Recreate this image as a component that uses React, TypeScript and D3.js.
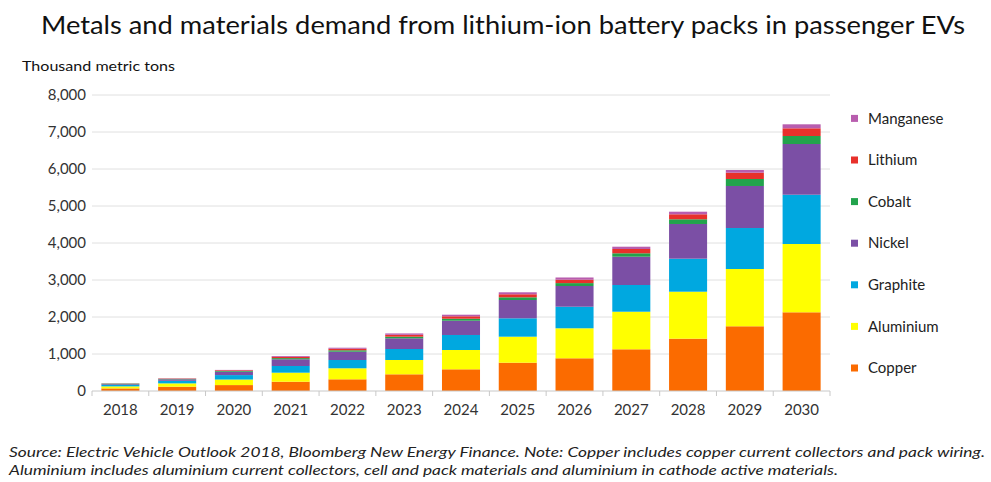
import React from "react";
import * as d3 from "d3";

const years = ["2018", "2019", "2020", "2021", "2022", "2023", "2024", "2025", "2026", "2027", "2028", "2029", "2030"];

// thousand metric tons
const copper = [70, 116, 160, 251, 316, 451, 586, 765, 884, 1127, 1414, 1749, 2127];
const aluminium = [55, 90, 150, 244, 298, 387, 522, 703, 811, 1016, 1270, 1548, 1846];
const graphite = [40, 70, 120, 181, 224, 297, 406, 497, 583, 722, 892, 1108, 1332];
const nickel = [20, 40, 90, 181, 224, 289, 386, 494, 560, 765, 938, 1136, 1371];
const cobalt = [15, 12, 20, 32, 38, 44, 54, 73, 78, 92, 127, 189, 216];
const lithium = [5, 10, 20, 35, 42, 50, 65, 82, 92, 116, 135, 170, 208];
const manganese = [3, 5, 10, 22, 28, 38, 43, 54, 60, 62, 70, 73, 108];

const seriesNames = ["Copper", "Aluminium", "Graphite", "Nickel", "Cobalt", "Lithium", "Manganese"];
const seriesValues = [copper, aluminium, graphite, nickel, cobalt, lithium, manganese];
const colors = ["#fb6b00", "#ffff00", "#00a8e0", "#7b4fa5", "#22a34c", "#e8302b", "#b85dae"];

const yTicks = [0, 1000, 2000, 3000, 4000, 5000, 6000, 7000, 8000];

const W = 991;
const H = 482;
const left = 92;
const right = 830;
const top = 95;
const bottom = 391;

export default function App() {
  const rows = years.map((y, i) => {
    const r: any = { year: y };
    seriesNames.forEach((s, j) => (r[s] = seriesValues[j][i]));
    return r;
  });
  const stacked = d3.stack().keys(seriesNames)(rows);

  const x = d3.scaleBand().domain(years).range([left, right]).paddingInner(0.33).paddingOuter(0.165);
  const y = d3.scaleLinear().domain([0, 8000]).range([bottom, top]);
  const fmt = d3.format(",");
  const step = x.step();
  const font = "Lato, 'Open Sans', sans-serif";

  return (
    <svg width={W} height={H} style={{ position: "absolute", left: 0, top: 0, background: "#fff" }}>
      <text x={41} y={34} fontFamily={font} fontSize={25} fill="#111" textLength={924} lengthAdjust="spacingAndGlyphs">
        Metals and materials demand from lithium-ion battery packs in passenger EVs
      </text>
      <text x={22} y={71} fontFamily={font} fontSize={14} fill="#111" textLength={153} lengthAdjust="spacingAndGlyphs">
        Thousand metric tons
      </text>

      {yTicks.map((t) => (
        <g key={t}>
          {t > 0 && <line x1={left} x2={right} y1={y(t)} y2={y(t)} stroke="#e0e0e0" strokeWidth={1} />}
          <text x={86} y={y(t)} dy="0.35em" textAnchor="end" fontFamily={font} fontSize={15} fill="#333">
            {fmt(t)}
          </text>
        </g>
      ))}

      {stacked.map((s, j) => (
        <g key={s.key} fill={colors[j]}>
          {s.map((d: any, i: number) => (
            <rect key={i} x={x(years[i])} width={x.bandwidth()} y={y(d[1])} height={y(d[0]) - y(d[1])} />
          ))}
        </g>
      ))}

      <line x1={left} x2={right} y1={bottom} y2={bottom} stroke="#c8c8c8" />
      {d3.range(years.length + 1).map((i) => (
        <line key={i} x1={left + i * step} x2={left + i * step} y1={bottom} y2={bottom + 5} stroke="#c8c8c8" />
      ))}
      {years.map((yr) => (
        <text key={yr} x={(x(yr) as number) + x.bandwidth() / 2} y={415} textAnchor="middle" fontFamily={font} fontSize={15} fill="#333">
          {yr}
        </text>
      ))}

      {seriesNames.map((s, j) => {
        const ly = 368 - j * 41.6;
        return (
          <g key={s}>
            <rect x={851} y={ly - 3.5} width={7} height={7} fill={colors[j]} />
            <text x={868} y={ly} dy="0.35em" fontFamily={font} fontSize={15} fill="#222">
              {s}
            </text>
          </g>
        );
      })}

      <text x={9} y={457} fontFamily={font} fontSize={14} fontStyle="italic" fill="#222" textLength={976} lengthAdjust="spacingAndGlyphs">
        Source: Electric Vehicle Outlook 2018, Bloomberg New Energy Finance. Note: Copper includes copper current collectors and pack wiring.
      </text>
      <text x={9} y={475} fontFamily={font} fontSize={14} fontStyle="italic" fill="#222" textLength={829} lengthAdjust="spacingAndGlyphs">
        Aluminium includes aluminium current collectors, cell and pack materials and aluminium in cathode active materials.
      </text>
    </svg>
  );
}
